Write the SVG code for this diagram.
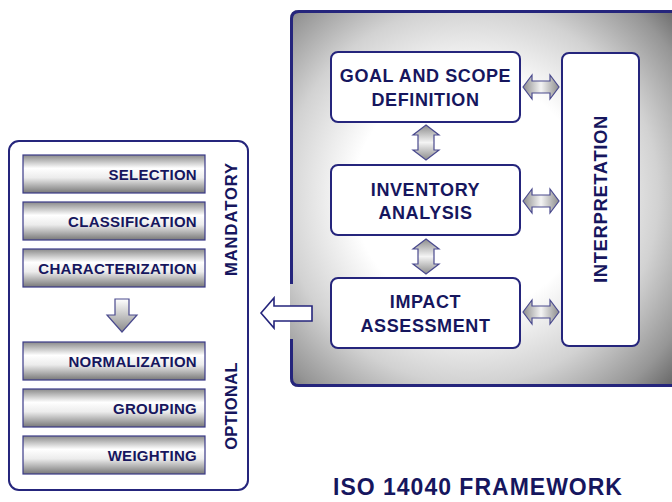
<svg xmlns="http://www.w3.org/2000/svg" width="672" height="502" viewBox="0 0 672 502">
  <defs>
    <style>
      .lbl { font-family: "Liberation Sans", Arial, sans-serif; font-weight: bold; fill: #16165e; }
      .box { fill: #ffffff; stroke: #25257c; stroke-width: 2; }
      .bar { fill: url(#barShade); stroke: #3a3a88; stroke-width: 1.2; }
      .dbl { stroke: #4a4a8e; stroke-width: 1.2; stroke-linejoin: miter; }
    </style>
    <radialGradient id="frameShade" gradientUnits="userSpaceOnUse" cx="470" cy="195" r="290">
      <stop offset="0" stop-color="#ffffff"/>
      <stop offset="0.4" stop-color="#ffffff"/>
      <stop offset="0.65" stop-color="#d2d2d2"/>
      <stop offset="0.85" stop-color="#969696"/>
      <stop offset="1" stop-color="#555555"/>
    </radialGradient>
    <linearGradient id="barShade" x1="0" y1="0" x2="0" y2="1">
      <stop offset="0" stop-color="#8a8a8a"/>
      <stop offset="0.35" stop-color="#ffffff"/>
      <stop offset="0.6" stop-color="#ececec"/>
      <stop offset="1" stop-color="#787878"/>
    </linearGradient>
    <linearGradient id="vShade" x1="0" y1="0" x2="0" y2="1">
      <stop offset="0" stop-color="#8c8c8c"/>
      <stop offset="0.5" stop-color="#f4f4f4"/>
      <stop offset="1" stop-color="#8c8c8c"/>
    </linearGradient>
    <linearGradient id="hShade" x1="0" y1="0" x2="1" y2="0">
      <stop offset="0" stop-color="#8c8c8c"/>
      <stop offset="0.5" stop-color="#f4f4f4"/>
      <stop offset="1" stop-color="#8c8c8c"/>
    </linearGradient>
    <linearGradient id="downShade" x1="0" y1="0" x2="0" y2="1">
      <stop offset="0" stop-color="#ffffff"/>
      <stop offset="1" stop-color="#8a8a8a"/>
    </linearGradient>
  </defs>

  <!-- framework panel with gap in the left border for the outgoing arrow -->
  <g id="framework">
    <rect x="290" y="10" width="400" height="377" rx="8" fill="url(#frameShade)"/>
    <path d="M291.5 284 V19 Q291.5 11.5 299 11.5 H690 M291.5 339 V378 Q291.5 385.5 299 385.5 H690" fill="none" stroke="#25257c" stroke-width="3"/>
  </g>

  <!-- left assessment panel -->
  <g id="lcia-panel">
    <rect class="box" x="9" y="141" width="239" height="349" rx="10"/>
    <text class="lbl" font-size="16.5" letter-spacing="1" transform="translate(237 219) rotate(-90)" text-anchor="middle">MANDATORY</text>
    <text class="lbl" font-size="16.5" letter-spacing="0.3" transform="translate(237 406) rotate(-90)" text-anchor="middle">OPTIONAL</text>
  </g>

  <g id="selection">
    <rect class="bar" x="23" y="155" width="182" height="38"/>
    <text class="lbl" font-size="15" letter-spacing="0.3" x="197" y="180" text-anchor="end">SELECTION</text>
  </g>
  <g id="classification">
    <rect class="bar" x="23" y="202" width="182" height="38"/>
    <text class="lbl" font-size="15" letter-spacing="0.3" x="197" y="227" text-anchor="end">CLASSIFICATION</text>
  </g>
  <g id="characterization">
    <rect class="bar" x="23" y="249" width="182" height="38"/>
    <text class="lbl" font-size="15" letter-spacing="0.3" x="197" y="274" text-anchor="end">CHARACTERIZATION</text>
  </g>
  <g id="normalization">
    <rect class="bar" x="23" y="342" width="182" height="38"/>
    <text class="lbl" font-size="15" letter-spacing="0.3" x="197" y="367" text-anchor="end">NORMALIZATION</text>
  </g>
  <g id="grouping">
    <rect class="bar" x="23" y="389" width="182" height="38"/>
    <text class="lbl" font-size="15" letter-spacing="0.3" x="197" y="414" text-anchor="end">GROUPING</text>
  </g>
  <g id="weighting">
    <rect class="bar" x="23" y="436" width="182" height="38"/>
    <text class="lbl" font-size="15" letter-spacing="0.3" x="197" y="461" text-anchor="end">WEIGHTING</text>
  </g>

  <!-- LCA phases -->
  <g id="goal-scope">
    <rect class="box" x="331" y="52" width="189" height="70" rx="7"/>
    <text class="lbl" font-size="18" letter-spacing="0.6" x="425.5" y="82" text-anchor="middle">GOAL AND SCOPE</text>
    <text class="lbl" font-size="18" letter-spacing="0.6" x="425.5" y="106" text-anchor="middle">DEFINITION</text>
  </g>
  <g id="inventory">
    <rect class="box" x="331" y="165" width="189" height="70" rx="7"/>
    <text class="lbl" font-size="18" letter-spacing="0.6" x="425.5" y="196" text-anchor="middle">INVENTORY</text>
    <text class="lbl" font-size="18" letter-spacing="0.6" x="425.5" y="219" text-anchor="middle">ANALYSIS</text>
  </g>
  <g id="impact">
    <rect class="box" x="331" y="278" width="189" height="70" rx="7"/>
    <text class="lbl" font-size="18" letter-spacing="0.6" x="425.5" y="308" text-anchor="middle">IMPACT</text>
    <text class="lbl" font-size="18" letter-spacing="0.6" x="425.5" y="332" text-anchor="middle">ASSESSMENT</text>
  </g>
  <g id="interpretation">
    <rect class="box" x="562" y="53" width="77" height="293" rx="7"/>
    <text class="lbl" font-size="18.5" letter-spacing="0.6" transform="translate(607 199) rotate(-90)" text-anchor="middle">INTERPRETATION</text>
  </g>

  <!-- connectors -->
  <g id="connectors">
    <!-- vertical double arrows between phases -->
    <path class="dbl" fill="url(#vShade)" d="M426 125 L439 135 H434 V150 H439 L426 160 L413 150 H418 V135 H413 Z"/>
    <path class="dbl" fill="url(#vShade)" d="M426 239 L439 249 H434 V264 H439 L426 274 L413 264 H418 V249 H413 Z"/>
    <!-- horizontal double arrows to interpretation -->
    <path class="dbl" fill="url(#hShade)" d="M523 87 L532 75 V81 H550 V75 L559 87 L550 99 V93 H532 V99 Z"/>
    <path class="dbl" fill="url(#hShade)" d="M523 201 L532 189 V195 H550 V189 L559 201 L550 213 V207 H532 V213 Z"/>
    <path class="dbl" fill="url(#hShade)" d="M523 312 L532 300 V306 H550 V300 L559 312 L550 324 V318 H532 V324 Z"/>
    <!-- impact assessment detail arrow -->
    <path d="M261 313 L274 298 V306 H312 V321 H274 V328 Z" fill="#ffffff" stroke="#25257c" stroke-width="1.6" stroke-linejoin="miter"/>
    <!-- mandatory to optional -->
    <path class="dbl" fill="url(#downShade)" d="M115 299 H129 V315 H137 L122 332 L107 315 H115 Z"/>
  </g>

  <text class="lbl" font-size="23" letter-spacing="1" x="333" y="495">ISO 14040 FRAMEWORK</text>
</svg>
